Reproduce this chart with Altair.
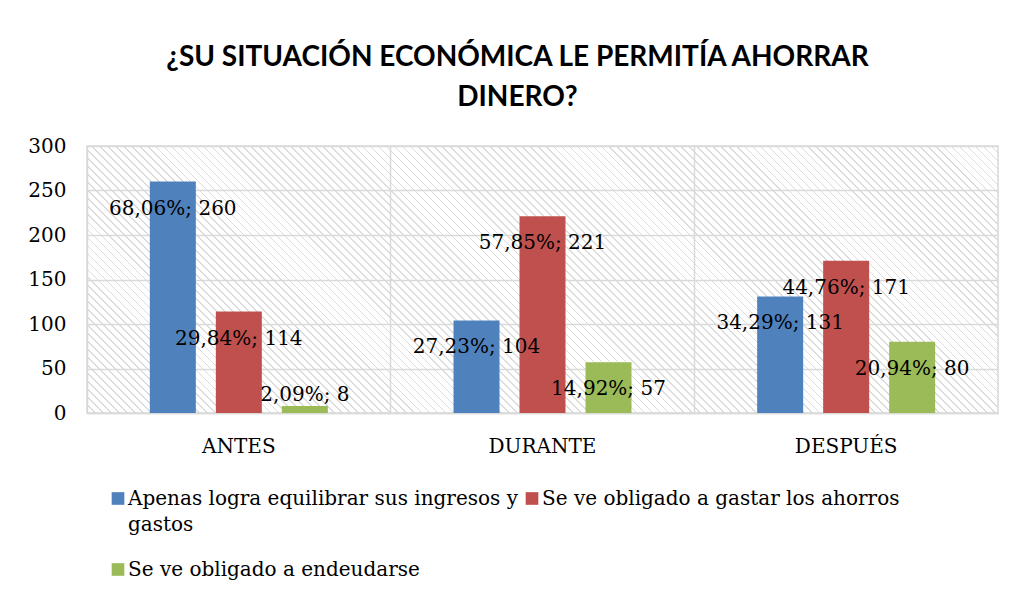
import math
import altair as alt
import pandas as pd

periods = ["ANTES", "DURANTE", "DESPUÉS"]
series = [
    "Apenas logra equilibrar sus ingresos y gastos",
    "Se ve obligado a gastar los ahorros",
    "Se ve obligado a endeudarse",
]
counts_s1 = [260, 104, 131]
counts_s2 = [114, 221, 171]
counts_s3 = [8, 57, 80]
pcts_s1 = ["68,06%", "27,23%", "34,29%"]
pcts_s2 = ["29,84%", "57,85%", "44,76%"]
pcts_s3 = ["2,09%", "14,92%", "20,94%"]
colors = ["#4F81BD", "#C0504D", "#9BBB59"]
y_ticks = [0, 50, 100, 150, 200, 250, 300]

rows = []
for s, cs, ps in zip(series, [counts_s1, counts_s2, counts_s3], [pcts_s1, pcts_s2, pcts_s3]):
    for p, c, pc in zip(periods, cs, ps):
        rows.append({"periodo": p, "serie": s, "n": c, "etiqueta": f"{pc}; {c}"})
df = pd.DataFrame(rows)

W, H = 911, 267
SERIF = "DejaVu Serif"

# diagonal hatch for plot background (style only)
r = W / H
k = (r + 1) / (r * r + 1)
x1, y1 = 0, 1
x2, y2 = k * r, 1 - k
L = (W + H) / math.sqrt(2)
period = 5.6
n_str = int(L / period)
lw = 1.2 / L
stops = []
for i in range(n_str + 1):
    o = i / n_str
    if o + lw > 1:
        break
    stops += [
        f"{{offset:{o:.5f},color:'#ffffff'}}",
        f"{{offset:{o:.5f},color:'#dcdcdc'}}",
        f"{{offset:{o + lw:.5f},color:'#dcdcdc'}}",
        f"{{offset:{o + lw:.5f},color:'#ffffff'}}",
    ]
grad_expr = (
    f"{{gradient:'linear',x1:{x1},y1:{y1},x2:{x2:.5f},y2:{y2:.5f},stops:[" + ",".join(stops) + "]}"
)

x_enc = alt.X(
    "periodo:N",
    sort=periods,
    scale=alt.Scale(paddingInner=0, paddingOuter=0),
    axis=alt.Axis(
        title=None,
        labelAngle=0,
        labelFont=SERIF,
        labelFontSize=20,
        labelColor="#000000",
        labelPadding=23,
        ticks=False,
        tickSize=0,
        domainColor="#d9d9d9",
        domainWidth=1.5,
        grid=True,
        gridColor="#d9d9d9",
        gridWidth=1.5,
        bandPosition=0,
    ),
)
y_scale = alt.Scale(domain=[0, 300], nice=False)
y_enc = alt.Y(
    "n:Q",
    scale=y_scale,
    axis=alt.Axis(
        title=None,
        values=y_ticks,
        labelFont=SERIF,
        labelFontSize=20,
        labelColor="#000000",
        labelPadding=21,
        ticks=False,
        tickSize=0,
        domain=False,
        grid=True,
        gridColor="#d9d9d9",
        gridWidth=1.5,
    ),
)
xoff = alt.XOffset(
    "serie:N",
    sort=series,
    scale=alt.Scale(paddingInner=0.303, paddingOuter=0.952),
)

bars = alt.Chart(df).mark_bar().encode(
    x=x_enc,
    xOffset=xoff,
    y=y_enc,
    color=alt.Color(
        "serie:N",
        sort=series,
        scale=alt.Scale(domain=series, range=colors),
        legend=alt.Legend(
            title=None,
            orient="none",
            direction="horizontal",
            legendX=21,
            legendY=333,
            columns=2,
            columnPadding=4,
            rowPadding=15,
            symbolType="M-1,0.5H1V2.5H-1Z",
            symbolSize=160,
            symbolStrokeWidth=0,
            labelFont=SERIF,
            labelFontSize=20,
            labelColor="#000000",
            labelBaseline="top",
            labelOffset=0,
            labelLimit=800,
            labelExpr=(
                "datum.value == 'Apenas logra equilibrar sus ingresos y gastos' ? "
                "['Apenas logra equilibrar sus ingresos y', 'gastos'] : "
                "(datum.value == 'Se ve obligado a gastar los ahorros' ? "
                "['Se ve obligado a gastar los ahorros', ' '] : datum.label)"
            ),
        ),
    ),
)

labels = (
    alt.Chart(df)
    .transform_calculate(ypos="max(datum.n - 30.4, 20)")
    .mark_text(font=SERIF, fontSize=20, color="#000000", baseline="middle", align="center")
    .encode(
        x=alt.X("periodo:N", sort=periods),
        xOffset=alt.XOffset("serie:N", sort=series),
        y=alt.Y("ypos:Q", scale=y_scale),
        text="etiqueta:N",
    )
)

chart = (
    alt.layer(bars, labels)
    .properties(
        width=W,
        height=H,
        title=alt.TitleParams(
            text=["¿SU SITUACIÓN ECONÓMICA LE PERMITÍA AHORRAR", "DINERO?"],
            font="Lato",
            fontSize=28,
            fontWeight="bold",
            color="#000000",
            lineHeight=40,
            anchor="middle",
            dx=-25,
            offset=24,
        ),
        autosize=alt.AutoSizeParams(type="none"),
        padding={"left": 79, "top": 138, "right": 8, "bottom": 168},
        background="#ffffff",
        view=alt.ViewBackground(stroke="#d9d9d9", strokeWidth=1.5, fill=alt.ExprRef(grad_expr)),
    )
    .configure(style={"guide-label": {"lineHeight": 26}})
)

chart.save("out.html", embed_options={"renderer": "svg", "actions": False})
